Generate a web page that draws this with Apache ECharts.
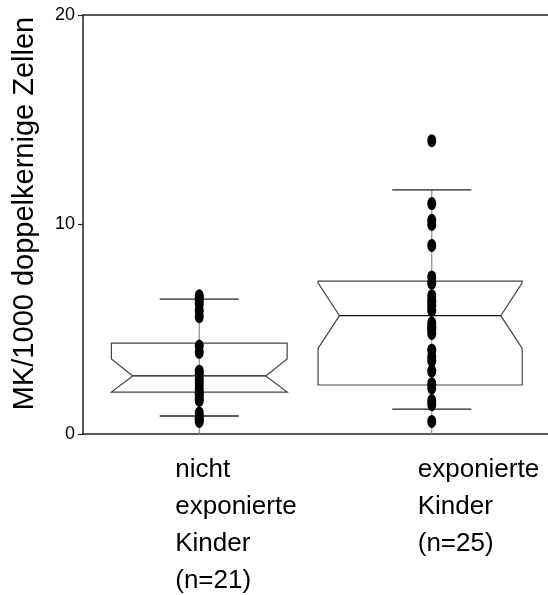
<!DOCTYPE html>
<html><head><meta charset="utf-8">
<script src="https://cdn.jsdelivr.net/npm/echarts@6/dist/echarts.min.js"></script>
<style>html,body{margin:0;padding:0;background:#fff}#c{width:548px;height:595px}</style>
</head><body><div id="c"></div>
<script>
// ---- data ----
const categories = ['nicht\nexponierte\nKinder\n(n=21)', 'exponierte\nKinder\n(n=25)'];
const yTicks = [0, 10, 20];
const whiskerLow  = [0.86, 1.19];
const q1          = [2.0, 2.34];
const notchLow    = [1.96, 4.08];
const median      = [2.77, 5.65];
const notchHigh   = [3.58, 7.22];
const q3          = [4.34, 7.3];
const whiskerHigh = [6.44, 11.65];
const group1Values = [6.6, 6.5, 6.4, 6.2, 5.9, 5.6, 4.2, 3.9, 3.0, 2.8, 2.6, 2.4, 2.2, 2.0, 1.9, 1.7, 1.6, 1.0, 0.8, 0.7, 0.6];
const group2Values = [14.0, 11.0, 10.2, 10.0, 9.0, 7.5, 7.2, 6.6, 6.4, 6.3, 6.1, 5.9, 5.3, 5.1, 5.0, 4.8, 4.0, 3.7, 3.5, 3.0, 2.4, 2.2, 1.6, 1.4, 0.6];

// ---- style ----
const BOX_HALF = [0.378, 0.439];   // box half-width as fraction of category band
const BOX_SHIFT = [0.0, -0.05];    // box centre shift (fraction of band)
const NOTCH_IN = 0.092, CAP_HALF = 0.17;
const labelShift = [-24, -14];
const FONT = '"Liberation Sans", Arial, sans-serif';

const boxData = categories.map((c, i) => [i, whiskerLow[i], q1[i], notchLow[i], median[i], notchHigh[i], q3[i], whiskerHigh[i]]);
const dotData = [];
group1Values.forEach(v => dotData.push([0, v]));
group2Values.forEach(v => dotData.push([1, v]));

function renderBox(params, api) {
  const i = api.value(0);
  const wl = api.value(1), lq = api.value(2), nl = api.value(3), md = api.value(4),
        nh = api.value(5), uq = api.value(6), wh = api.value(7);
  const Y = v => api.coord([i, v])[1];
  const band = api.size([1, 0])[0];
  const cx = api.coord([i, md])[0];
  const bx = cx + band * BOX_SHIFT[i];
  const hw = band * BOX_HALF[i], ni = band * NOTCH_IN, ch = band * CAP_HALF;
  const yq3 = Y(uq), yq1 = Y(lq), ym = Y(md);
  const ynh = Y(Math.min(nh, uq)), ynl = Y(Math.max(nl, lq));
  const yBase = Y(0), ywh = Y(wh), ywl = Y(wl);
  const L = bx - hw, R = bx + hw;
  const pts = [[L, yq3], [R, yq3], [R, ynh], [R - ni, ym], [R, ynl], [R, yq1],
               [L, yq1], [L, ynl], [L + ni, ym], [L, ynh]];
  return {
    type: 'group',
    children: [
      { type: 'line', shape: { x1: cx, y1: yBase, x2: cx, y2: ywh }, style: { stroke: '#8a8a8a', lineWidth: 1.2 } },
      { type: 'polygon', shape: { points: pts }, style: { fill: 'rgba(255,255,255,0)', stroke: '#444', lineWidth: 1.2 } },
      { type: 'line', shape: { x1: L + ni, y1: ym, x2: R - ni, y2: ym }, style: { stroke: '#111', lineWidth: 1.2 } },
      { type: 'line', shape: { x1: cx - ch, y1: ywh, x2: cx + ch, y2: ywh }, style: { stroke: '#222', lineWidth: 1.3 } },
      { type: 'line', shape: { x1: cx - ch, y1: ywl, x2: cx + ch, y2: ywl }, style: { stroke: '#222', lineWidth: 1.3 } }
    ]
  };
}

const labelStyle = { align: 'left', verticalAlign: 'top', fontSize: 26, lineHeight: 37, color: '#000', fontFamily: FONT };

const chart = echarts.init(document.getElementById('c'), null, { renderer: 'canvas' });
chart.setOption({
  animation: false,
  backgroundColor: '#fff',
  grid: { left: 83, right: 0, top: 15, bottom: 161, containLabel: false, outerBoundsMode: 'none' },
  xAxis: [
    {
      type: 'category',
      data: categories.map((c, i) => ({ value: c, textStyle: Object.assign({}, labelStyle, { padding: [0, 0, 0, labelShift[i]] }) })),
      boundaryGap: true,
      axisLine: { show: true, lineStyle: { color: '#222', width: 1.5 } },
      axisTick: { show: false },
      splitLine: { show: false },
      axisLabel: Object.assign({ interval: 0, margin: 17 }, labelStyle)
    },
    {
      type: 'category', position: 'top', data: categories,
      axisLine: { show: true, lineStyle: { color: '#222', width: 1.5 } },
      axisTick: { show: false }, axisLabel: { show: false }, splitLine: { show: false }
    }
  ],
  yAxis: {
    type: 'value', min: yTicks[0], max: yTicks[yTicks.length - 1], interval: yTicks[1] - yTicks[0],
    name: 'MK/1000 doppelkernige Zellen', nameLocation: 'middle', nameGap: 44,
    nameTextStyle: { fontSize: 29, color: '#000', fontFamily: FONT, padding: [0, 0, 0, 22] },
    axisLine: { show: true, lineStyle: { color: '#222', width: 1.5 } },
    axisTick: { show: true, inside: false, length: 5, lineStyle: { color: '#222', width: 1.2 } },
    axisLabel: { fontSize: 18, color: '#000', margin: 8, fontFamily: FONT },
    splitLine: { show: false }
  },
  series: [
    { type: 'custom', renderItem: renderBox, data: boxData, encode: { x: 0, y: [1, 2, 3, 4, 5, 6, 7] }, z: 2 },
    { type: 'scatter', data: dotData, symbol: 'circle', symbolSize: [9, 13],
      itemStyle: { color: '#000', opacity: 1 }, z: 3 }
  ]
});
</script>
</body></html>
